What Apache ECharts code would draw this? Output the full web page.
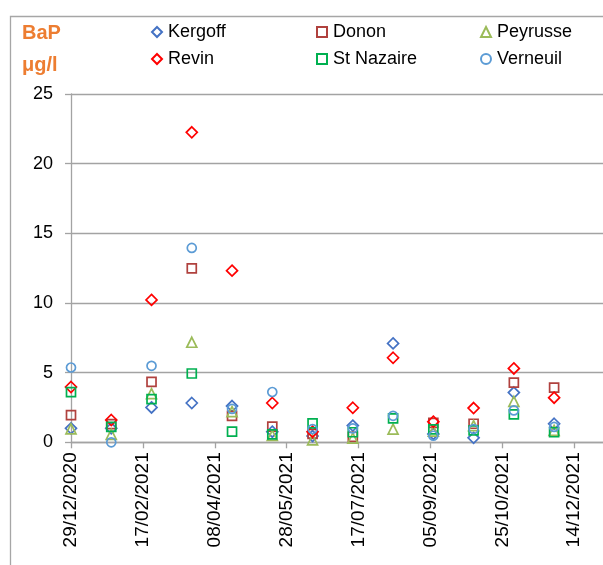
<!DOCTYPE html>
<html>
<head>
<meta charset="utf-8">
<script src="https://cdn.jsdelivr.net/npm/echarts@6/dist/echarts.min.js"></script>
<style>
html,body{margin:0;padding:0;background:#fff;}
#chart{width:603px;height:565px;}
</style>
</head>
<body>
<div id="chart"></div>
<script>
// Sampling dates (DD/MM/YYYY)
var dates = ['29/12/2020','26/01/2021','23/02/2021','23/03/2021','20/04/2021','18/05/2021','15/06/2021','13/07/2021','10/08/2021','07/09/2021','05/10/2021','02/11/2021','30/11/2021'];
var seriesNames = ['Kergoff','Donon','Peyrusse','Revin','St Nazaire','Verneuil'];
var kergoff   = [1.0, 1.0, 2.5, 2.82, 2.6, 0.76, 0.45, 1.2, 7.1, 0.6, 0.32, 3.57, 1.33];
var donon     = [1.95, 1.3, 4.33, 12.49, 1.9, 1.12, 0.6, 0.4, null, 1.4, 1.33, 4.29, 3.93];
var peyrusse  = [0.97, 0.57, 3.49, 7.18, 2.2, 0.5, 0.17, 0.3, 0.95, 0.8, 1.2, 2.94, 0.85];
var revin     = [3.97, 1.6, 10.22, 22.25, 12.32, 2.82, 0.76, 2.48, 6.07, 1.48, 2.46, 5.3, 3.2];
var stNazaire = [3.6, 1.1, 3.1, 4.94, 0.76, 0.57, 1.36, 0.72, 1.72, 0.93, 0.85, 2.0, 0.72];
var verneuil  = [5.37, 0.0, 5.49, 13.95, 2.4, 3.61, 0.95, 1.0, 1.9, 0.47, 0.95, 2.29, 1.1];
var yTicks = [0, 5, 10, 15, 20, 25];
var originDate = '29/12/2020';
var tickDays = 50;

function toUTC(s){ var p = s.split('/'); return Date.UTC(+p[2], +p[1]-1, +p[0]); }
var DAY = 86400000;
var origin = toUTC(originDate);
function dayOffset(s){ return Math.round((toUTC(s) - origin) / DAY); }
function fmt(d){
  var t = new Date(origin + d * DAY);
  function pad(n){ return (n < 10 ? '0' : '') + n; }
  return pad(t.getUTCDate()) + '/' + pad(t.getUTCMonth()+1) + '/' + t.getUTCFullYear();
}

var values = [kergoff, donon, peyrusse, revin, stNazaire, verneuil];
var colors = ['#4472C4', '#B0413E', '#9BBB59', '#FF0000', '#00B050', '#5B9BD5'];
var symbols = ['diamond', 'rect', 'triangle', 'diamond', 'rect', 'circle'];
var sizes = [11, 9, 10, 11, 9, 9];

var series = seriesNames.map(function(name, i){
  return {
    name: name,
    type: 'scatter',
    symbol: symbols[i],
    symbolSize: sizes[i],
    itemStyle: { color: 'rgba(0,0,0,0)', borderColor: colors[i], borderWidth: 1.7, opacity: 1 },
    emphasis: { disabled: true },
    data: dates.map(function(d, k){ return values[i][k] == null ? null : [dayOffset(d), values[i][k]]; }).filter(function(p){ return p; })
  };
});

var gridColor = '#A3A3A3';
var fontFam = '"Liberation Sans", Arial, sans-serif';
function legendCol(data, left){
  return {
    data: data, orient: 'vertical', left: left, top: 22,
    itemWidth: 10, itemHeight: 10, itemGap: 7,
    textStyle: { fontFamily: fontFam, fontSize: 18, color: '#000', lineHeight: 20, padding: [0,0,0,1] },
    selectedMode: false, padding: 0
  };
}

var chart = echarts.init(document.getElementById('chart'), null, { renderer: 'canvas' });
chart.setOption({
  animation: false,
  backgroundColor: '#fff',
  textStyle: { fontFamily: fontFam },
  graphic: [
    { type: 'rect', left: 8, top: 14, shape: { width: 700, height: 700 }, style: { fill: 'none', stroke: '#A6A6A6', lineWidth: 1.3 }, silent: true, z: -1 },
    { type: 'text', left: 22, top: 23, style: { text: 'BaP', fill: '#ED7D31', font: 'bold 20px ' + fontFam } },
    { type: 'text', left: 22, top: 55, style: { text: 'μg/l', fill: '#ED7D31', font: 'bold 20px ' + fontFam } }
  ],
  legend: [
    legendCol(['Kergoff','Revin'], 151),
    legendCol(['Donon','St Nazaire'], 316),
    legendCol(['Peyrusse','Verneuil'], 480)
  ],
  grid: { left: 71, top: 94, right: -4, height: 348.3 },
  xAxis: {
    type: 'value', min: 0, max: 370, interval: tickDays,
    axisLine: { show: true, onZero: false, lineStyle: { color: gridColor, width: 1.3 } },
    axisTick: { show: true, inside: false, length: 6, lineStyle: { color: gridColor, width: 1.3 } },
    splitLine: { show: false },
    axisLabel: { rotate: 90, margin: 10, fontSize: 19, color: '#000', fontFamily: fontFam, showMaxLabel: false,
      formatter: function(v){ return fmt(v); } }
  },
  yAxis: {
    type: 'value', min: yTicks[0], max: yTicks[yTicks.length-1], interval: yTicks[1]-yTicks[0],
    axisLine: { show: true, lineStyle: { color: gridColor, width: 1.3 } },
    axisTick: { show: true, inside: false, length: 6, lineStyle: { color: gridColor, width: 1.3 } },
    splitLine: { show: true, lineStyle: { color: gridColor, width: 1.3 } },
    axisLabel: { margin: 18, fontSize: 18, color: '#000', fontFamily: fontFam }
  },
  series: series
});
</script>
</body>
</html>
